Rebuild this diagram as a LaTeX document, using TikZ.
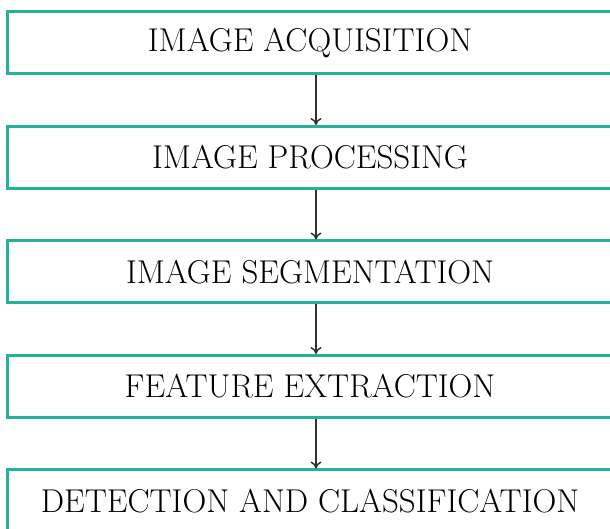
\documentclass[tikz,border=0pt]{standalone}
\usepackage{tikz}
\usetikzlibrary{arrows.meta}

\definecolor{stageteal}{RGB}{36,178,152}
\definecolor{flowgray}{RGB}{50,50,50}

\begin{document}
\begin{tikzpicture}[x=1pt, y=1pt,
    stage/.style={rectangle, draw=stageteal, line width=3pt, fill=white,
        minimum width=605pt, minimum height=62pt, inner sep=0pt,
        font=\fontsize{33}{40}\selectfont},
    flow/.style={draw=flowgray, line width=1.5pt, -{To[length=7pt, width=11pt]}}]
    \useasboundingbox (0,0) rectangle (610,529);

    % Stages (top to bottom)
    \node[stage] (Acquisition) at (310, 486) {IMAGE ACQUISITION};
    \node[stage] (Processing) at (310, 371.5) {IMAGE PROCESSING};
    \node[stage] (Segmentation) at (310, 257) {IMAGE SEGMENTATION};
    \node[stage] (Extraction) at (310, 142.5) {FEATURE EXTRACTION};
    \node[stage] (Classification) at (310, 28) {DETECTION AND CLASSIFICATION};

    % Draw arrows
    \draw[flow] ([xshift=6pt]Acquisition.south) -- ([xshift=6pt]Processing.north);
    \draw[flow] ([xshift=6pt]Processing.south) -- ([xshift=6pt]Segmentation.north);
    \draw[flow] ([xshift=6pt]Segmentation.south) -- ([xshift=6pt]Extraction.north);
    \draw[flow] ([xshift=6pt]Extraction.south) -- ([xshift=6pt]Classification.north);
\end{tikzpicture}
\end{document}
